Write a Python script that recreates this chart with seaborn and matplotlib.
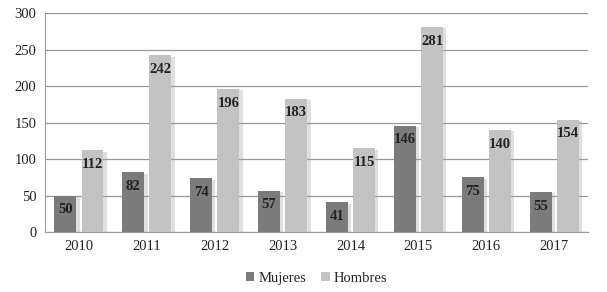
import pandas as pd
import matplotlib
matplotlib.use("Agg")
import matplotlib.pyplot as plt
import matplotlib.patheffects as pe
import seaborn as sns

# Datos
anios = ['2010', '2011', '2012', '2013', '2014', '2015', '2016', '2017']
mujeres = [50, 82, 74, 57, 41, 146, 75, 55]
hombres = [112, 242, 196, 183, 115, 281, 140, 154]

df = pd.DataFrame({
    'Año': anios * 2,
    'Valor': mujeres + hombres,
    'Sexo': ['Mujeres'] * len(anios) + ['Hombres'] * len(anios),
})

sns.set_style("white")
plt.rcParams['font.family'] = ['Liberation Serif', 'DejaVu Serif']

fig = plt.figure(figsize=(6.07, 2.92), dpi=100)
ax = fig.add_axes([0.074, 0.205, 0.895, 0.75])

sns.barplot(data=df, x='Año', y='Valor', hue='Sexo', ax=ax,
            palette={'Mujeres': '#7b7b7b', 'Hombres': '#c3c3c3'},
            width=0.8, gap=0.2, saturation=1, edgecolor='none', zorder=3)

# etiquetas dentro de las barras
for cont in ax.containers:
    for bar in cont:
        h = bar.get_height()
        ax.annotate(f'{int(h)}', (bar.get_x() + bar.get_width() / 2, h),
                    xytext=(0, -5.5), textcoords='offset points',
                    ha='center', va='top', fontsize=10.5, fontweight='bold',
                    color='#222222', zorder=5)

ax.set_ylim(0, 300)
ax.set_yticks(range(0, 301, 50))
ax.set_xlabel('')
ax.set_ylabel('')
ax.yaxis.grid(True, color='#999999', linewidth=0.9, zorder=0)
ax.set_axisbelow(True)
for s in ['top', 'right']:
    ax.spines[s].set_visible(False)
ax.spines['left'].set_color('#999999')
ax.spines['bottom'].set_color('#999999')
ax.tick_params(axis='both', labelsize=10.5, colors='#222222', length=0, pad=6)

ax.legend(loc='upper center', bbox_to_anchor=(0.5, -0.12), ncol=2, frameon=False,
          prop={'family': 'Liberation Serif', 'size': 10.5},
          handlelength=0.6, handleheight=0.6, handletextpad=0.3,
          columnspacing=1.0)

# sombra suave a la derecha de las barras
for p in ax.patches:
    p.set_path_effects([pe.SimplePatchShadow(offset=(2.5, -1), shadow_rgbFace='#999999', alpha=0.3),
                        pe.Normal()])

fig.savefig('out.png', dpi=100)
